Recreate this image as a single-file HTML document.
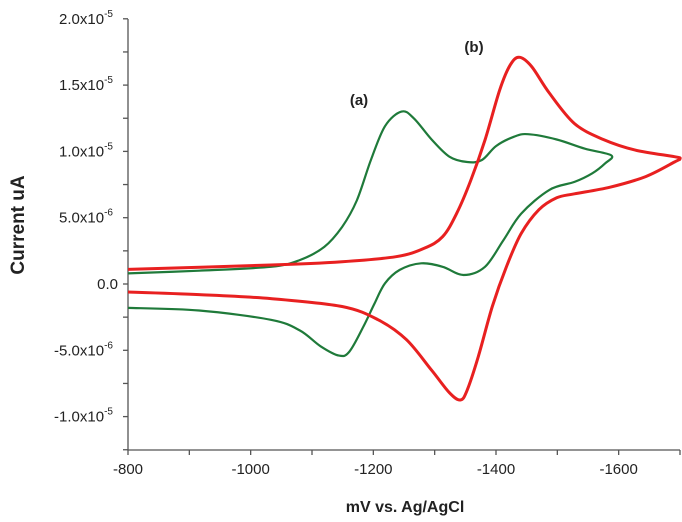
<!DOCTYPE html>
<html><head><meta charset="utf-8"><style>
body{margin:0;background:#fff}
svg{display:block;font-family:"Liberation Sans",Arial,sans-serif}
</style></head><body>
<svg id="chart" width="682" height="522"></svg>
<script>
const xTicks=[-800,-1000,-1200,-1400,-1600];
const yTicks=[20,15,10,5,0,-5,-10];
const yTickLabels=["2.0x10","1.5x10","1.0x10","5.0x10","0.0","-5.0x10","-1.0x10"];
const yTickExp=["-5","-5","-5","-6","","-6","-5"];
const redX=[-800,-1033,-1149,-1237,-1283,-1313,-1336,-1359,-1382,-1406,-1423,-1438,-1458,-1487,-1528,-1575,-1627,-1691,-1700,-1691,-1644,-1586,-1528,-1499,-1470,-1441,-1417,-1394,-1371,-1353,-1342,-1324,-1295,-1254,-1208,-1149,-1033,-916,-800];
const redY=[1.1,1.43,1.68,2.06,2.69,3.57,5.33,7.84,10.86,14.63,16.5,17.1,16.4,14.4,12.1,10.9,10.1,9.6,9.45,9.2,8.1,7.3,6.8,6.5,5.6,3.8,1.3,-1.7,-5.5,-8.0,-8.75,-8.2,-6.5,-4.2,-2.7,-1.7,-1.1,-0.8,-0.6];
const greenX=[-800,-916,-1033,-1080,-1120,-1149,-1173,-1196,-1219,-1246,-1266,-1295,-1324,-1353,-1377,-1400,-1429,-1452,-1499,-1545,-1588,-1578,-1557,-1528,-1487,-1441,-1412,-1382,-1347,-1313,-1278,-1243,-1219,-1202,-1184,-1161,-1144,-1114,-1080,-1033,-916,-800];
const greenY=[0.8,1.0,1.3,1.8,2.8,4.3,6.3,9.35,11.9,13.0,12.5,10.9,9.6,9.2,9.35,10.4,11.1,11.3,10.9,10.2,9.7,9.1,8.35,7.7,7.1,5.3,3.3,1.3,0.68,1.3,1.56,1.06,0.05,-1.46,-3.2,-5.1,-5.4,-4.7,-3.5,-2.7,-2.0,-1.8];
const NS="http://www.w3.org/2000/svg";
const svg=document.getElementById('chart');
const X0=128,X1=680,Y0=284,PER=13.26;
function sx(v){return X0+(v+800)/(-900)*(X1-X0);}
function sy(v){return Y0-v*PER;}
function mk(t,a,p){const e=document.createElementNS(NS,t);for(const k in a)e.setAttribute(k,a[k]);(p||svg).appendChild(e);return e;}
let ax=mk('path',{d:`M${X0} 19 V450 H${X1}`,fill:'none',stroke:'#555','stroke-width':1.3});


for(let v=-800;v>=-1700;v-=100){let t=mk('line',{x1:sx(v),x2:sx(v),y1:450,y2:455,stroke:'#555','stroke-width':1.3});

}
xTicks.forEach(v=>{let t=mk('text',{x:sx(v),y:474,'text-anchor':'middle','font-size':15,fill:'#222'});t.textContent=v;

});
for(let v=20;v>=-12.5;v-=2.5){let t=mk('line',{x1:X0-5,x2:X0,y1:sy(v),y2:sy(v),stroke:'#555','stroke-width':1.3});

}
yTicks.forEach((v,i)=>{let t=mk('text',{x:yTickExp[i]?X0-15:X0-10,y:sy(v)+5,'text-anchor':'end','font-size':15,fill:'#222'});t.textContent=yTickLabels[i];
if(yTickExp[i]){let s=mk('tspan',{dy:-7,'font-size':10},t);s.textContent=yTickExp[i];}

});
function line(xs,ys,c,w,n){
const P=xs.map((x,i)=>[sx(x),sy(ys[i])]);
let d='M'+P[0][0].toFixed(1)+' '+P[0][1].toFixed(1);
for(let i=0;i<P.length-1;i++){const p0=P[Math.max(0,i-1)],p1=P[i],p2=P[i+1],p3=P[Math.min(P.length-1,i+2)];
const c1=[p1[0]+(p2[0]-p0[0])/6,p1[1]+(p2[1]-p0[1])/6],c2=[p2[0]-(p3[0]-p1[0])/6,p2[1]-(p3[1]-p1[1])/6];
d+=` C${c1[0].toFixed(1)} ${c1[1].toFixed(1)} ${c2[0].toFixed(1)} ${c2[1].toFixed(1)} ${p2[0].toFixed(1)} ${p2[1].toFixed(1)}`;}
let p=mk('path',{d:d,fill:'none',stroke:c,'stroke-width':w,'stroke-linejoin':'round'});

}
line(greenX,greenY,'#1f7a3a',2.2,'series-a-green');
line(redX,redY,'#e82020',3,'series-b-red');
let la=mk('text',{x:359,y:105,'text-anchor':'middle','font-size':15,'font-weight':'bold',fill:'#222'});la.textContent='(a)';


let lb=mk('text',{x:474,y:52,'text-anchor':'middle','font-size':15,'font-weight':'bold',fill:'#222'});lb.textContent='(b)';


let xt=mk('text',{x:405,y:512,'text-anchor':'middle','font-size':16,'font-weight':'bold',fill:'#222'});xt.textContent='mV vs. Ag/AgCl';


let yt=mk('text',{x:0,y:0,'text-anchor':'middle','font-size':19,'font-weight':'bold',fill:'#222',transform:'translate(24,225) rotate(-90)'});yt.textContent='Current uA';


</script>
</body></html>
